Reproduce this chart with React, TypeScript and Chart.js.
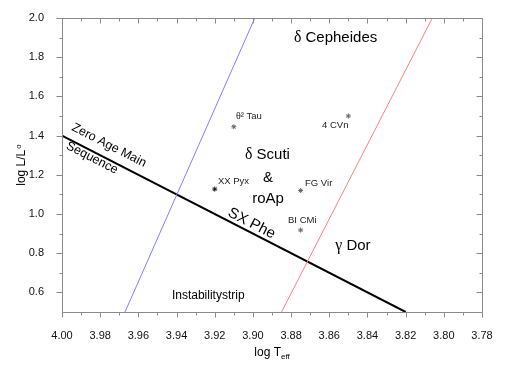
import React, { useEffect, useRef } from "react";
import { Chart, registerables } from "chart.js";

Chart.register(...registerables);

// ---- data ----
const xTicks = [4.0, 3.98, 3.96, 3.94, 3.92, 3.9, 3.88, 3.86, 3.84, 3.82, 3.8, 3.78];
const xMinorTicks = [3.99, 3.97, 3.95, 3.93, 3.91, 3.89, 3.87, 3.85, 3.83, 3.81, 3.79];
const yTicks = [0.6, 0.8, 1.0, 1.2, 1.4, 1.6, 1.8, 2.0];
const yMinorTicks = [0.7, 0.9, 1.1, 1.3, 1.5, 1.7, 1.9];

const starNames = ["θ² Tau", "4 CVn", "XX Pyx", "FG Vir", "BI CMi"];
const starTeff = [3.91, 3.85, 3.92, 3.875, 3.875];
const starLum = [1.445, 1.5, 1.127, 1.12, 0.918];

const zamsTeff = [4.0, 3.82];
const zamsLum = [1.4, 0.5];
const blueEdgeTeff = [3.967, 3.899];
const blueEdgeLum = [0.5, 2.0];
const redEdgeTeff = [3.885, 3.806];
const redEdgeLum = [0.5, 2.0];

// text annotations in data coordinates
const labelTexts = [
  "δ Cepheides", "θ² Tau", "4 CVn", "δ Scuti", "&", "roAp", "XX Pyx", "FG Vir", "BI CMi",
  "SX Phe", "γ Dor", "Zero Age Main", "Sequence", "Instabilitystrip",
];
const labelTeff = [3.8567, 3.9089, 3.8638, 3.8924, 3.8921, 3.8921, 3.9183, 3.8727, 3.8816, 3.9007, 3.8476, 3.9754, 3.9843, 3.9234];
const labelLum = [1.898, 1.4964, 1.454, 1.301, 1.184, 1.0765, 1.168, 1.1566, 0.9658, 0.9515, 0.838, 1.35, 1.2857, 0.5816];
const labelKind = ["big", "small", "small", "big", "big", "big", "small", "small", "small", "bigRot", "big", "rot", "rot", "mid"];

const FONT = 'Arial, "Liberation Sans", sans-serif';
const SERIF = '"Liberation Serif", "DejaVu Serif", serif';
const GREEK = "δγθ";

// draw text whose leading Greek letter is in a serif face, like the Symbol font
function drawMixed(ctx: CanvasRenderingContext2D, t: string, size: number, align: string) {
  const parts: { s: string; f: string }[] = [];
  if (GREEK.includes(t[0])) {
    parts.push({ s: t[0], f: `${size * 1.05}px ${SERIF}` });
    parts.push({ s: t.slice(1), f: `${size}px ${FONT}` });
  } else {
    parts.push({ s: t, f: `${size}px ${FONT}` });
  }
  let total = 0;
  const widths = parts.map((p) => {
    ctx.font = p.f;
    const w = ctx.measureText(p.s).width;
    total += w;
    return w;
  });
  let x = align === "center" ? -total / 2 : 0;
  ctx.textAlign = "left";
  parts.forEach((p, i) => {
    ctx.font = p.f;
    ctx.fillText(p.s, x, 0);
    x += widths[i];
  });
}

const overlayPlugin = {
  id: "overlay",
  afterDraw(chart: any) {
    const { ctx, chartArea } = chart;
    const xs = chart.scales.x;
    const ys = chart.scales.y;
    const { left, right, top, bottom } = chartArea;
    ctx.save();
    // frame
    ctx.strokeStyle = "#8a8a8a";
    ctx.lineWidth = 1;
    ctx.beginPath();
    ctx.rect(Math.round(left) + 0.5, Math.round(top) + 0.5, Math.round(right - left), Math.round(bottom - top));
    ctx.stroke();
    // ticks
    const tick = (x1: number, y1: number, x2: number, y2: number) => {
      ctx.beginPath();
      ctx.moveTo(x1, y1);
      ctx.lineTo(x2, y2);
      ctx.stroke();
    };
    const bx = Math.round(bottom) + 0.5;
    const tx = Math.round(top) + 0.5;
    xTicks.forEach((v) => {
      const px = Math.round(xs.getPixelForValue(v)) + 0.5;
      tick(px, bx, px, bx + 5);
      tick(px, tx, px, tx + 5);
    });
    xMinorTicks.forEach((v) => {
      const px = Math.round(xs.getPixelForValue(v)) + 0.5;
      tick(px, bx, px, bx + 3);
      tick(px, tx, px, tx + 3);
    });
    const lx = Math.round(left) + 0.5;
    const rx = Math.round(right) + 0.5;
    yTicks.forEach((v) => {
      const py = Math.round(ys.getPixelForValue(v)) + 0.5;
      tick(lx - 6, py, lx, py);
      tick(rx - 6, py, rx, py);
    });
    yMinorTicks.forEach((v) => {
      const py = Math.round(ys.getPixelForValue(v)) + 0.5;
      tick(lx - 3, py, lx, py);
      tick(rx - 3, py, rx, py);
    });

    // rotation angle from ZAMS line
    const ang = Math.atan2(
      ys.getPixelForValue(zamsLum[1]) - ys.getPixelForValue(zamsLum[0]),
      xs.getPixelForValue(zamsTeff[1]) - xs.getPixelForValue(zamsTeff[0])
    );

    ctx.textBaseline = "middle";
    labelTexts.forEach((t, i) => {
      const px = xs.getPixelForValue(labelTeff[i]);
      const py = ys.getPixelForValue(labelLum[i]);
      const kind = labelKind[i];
      ctx.save();
      ctx.translate(px, py);
      ctx.fillStyle = "#000";
      if (kind === "small") {
        ctx.fillStyle = "#222";
        drawMixed(ctx, t, 9.5, "left");
      } else if (kind === "mid") {
        drawMixed(ctx, t, 12, "center");
      } else if (kind === "rot") {
        ctx.rotate(ang);
        drawMixed(ctx, t, 12.5, "center");
      } else if (kind === "bigRot") {
        ctx.rotate(ang);
        drawMixed(ctx, t, 15, "center");
      } else {
        drawMixed(ctx, t, 15, "center");
      }
      ctx.restore();
    });

    // axis titles
    ctx.fillStyle = "#000";
    // x title: log T_eff
    {
      const cx = (left + right) / 2 + 0;
      const cy = bottom + 41;
      ctx.font = `12px ${FONT}`;
      const main = "log T";
      const wMain = ctx.measureText(main).width;
      ctx.font = `8px ${FONT}`;
      const wSub = ctx.measureText("eff").width;
      const x0 = cx - (wMain + wSub) / 2;
      ctx.font = `12px ${FONT}`;
      ctx.textAlign = "left";
      ctx.fillText(main, x0, cy);
      ctx.font = `8px ${FONT}`;
      ctx.fillText("eff", x0 + wMain, cy + 4);
    }
    // y title: log L/L_o
    {
      ctx.save();
      ctx.translate(22, (top + bottom) / 2);
      ctx.rotate(-Math.PI / 2);
      ctx.font = `12px ${FONT}`;
      const main = "log L/L";
      const wMain = ctx.measureText(main).width;
      ctx.font = `8px ${FONT}`;
      const wSup = ctx.measureText("o").width;
      const x0 = -(wMain + wSup + 1) / 2;
      ctx.font = `12px ${FONT}`;
      ctx.textAlign = "left";
      ctx.fillText(main, x0, 0);
      ctx.font = `8px ${FONT}`;
      ctx.fillText("o", x0 + wMain + 1, -3);
      ctx.restore();
    }
    ctx.restore();
  },
};

export default function App() {
  const ref = useRef<HTMLCanvasElement | null>(null);
  useEffect(() => {
    if (!ref.current) return;
    const chart = new Chart(ref.current, {
      type: "scatter",
      data: {
        datasets: [
          {
            label: "Blue edge",
            data: blueEdgeTeff.map((x, i) => ({ x, y: blueEdgeLum[i] })),
            showLine: true,
            borderColor: "#8080ff",
            borderWidth: 1,
            pointRadius: 0,
          },
          {
            label: "Red edge",
            data: redEdgeTeff.map((x, i) => ({ x, y: redEdgeLum[i] })),
            showLine: true,
            borderColor: "#ff8080",
            borderWidth: 1,
            pointRadius: 0,
          },
          {
            label: "ZAMS",
            data: zamsTeff.map((x, i) => ({ x, y: zamsLum[i] })),
            showLine: true,
            borderColor: "#000",
            borderWidth: 2,
            pointRadius: 0,
          },
          {
            label: "Stars",
            data: starTeff.map((x, i) => ({ x, y: starLum[i], name: starNames[i] })) as any,
            pointStyle: "star",
            pointRadius: 2.5,
            borderColor: ["#666", "#666", "#111", "#666", "#666"],
            borderWidth: 1,
            backgroundColor: "#666",
          },
        ],
      },
      options: {
        animation: false,
        responsive: false,
        maintainAspectRatio: false,
        layout: { padding: { top: 18, right: 28, left: 0, bottom: 0 } },
        plugins: { legend: { display: false }, tooltip: { enabled: false } },
        scales: {
          x: {
            type: "linear",
            reverse: true,
            min: 3.78,
            max: 4.0,
            grid: { display: false },
            border: { display: false },
            ticks: {
              font: { size: 11, family: FONT },
              color: "#111",
              padding: 9,
              maxRotation: 0,
              autoSkip: false,
              callback: (v: any) => Number(v).toFixed(2),
            },
            afterBuildTicks: (s: any) => {
              s.ticks = xTicks.map((v) => ({ value: v }));
            },
            afterFit: (s: any) => {
              s.height = 54;
            },
          },
          y: {
            type: "linear",
            min: 0.5,
            max: 2.0,
            grid: { display: false },
            border: { display: false },
            ticks: {
              font: { size: 11, family: FONT },
              color: "#111",
              padding: 10,
              autoSkip: false,
              callback: (v: any) => Number(v).toFixed(1),
            },
            afterBuildTicks: (s: any) => {
              s.ticks = yTicks.map((v) => ({ value: v }));
            },
            afterFit: (s: any) => {
              s.width = 62;
            },
          },
        },
      },
      plugins: [overlayPlugin],
    });
    return () => chart.destroy();
  }, []);
  return (
    <div style={{ position: "fixed", left: 0, top: 0, width: 510, height: 366, background: "#fff" }}>
      <canvas ref={ref} width={510} height={366} style={{ width: 510, height: 366 }} />
    </div>
  );
}
